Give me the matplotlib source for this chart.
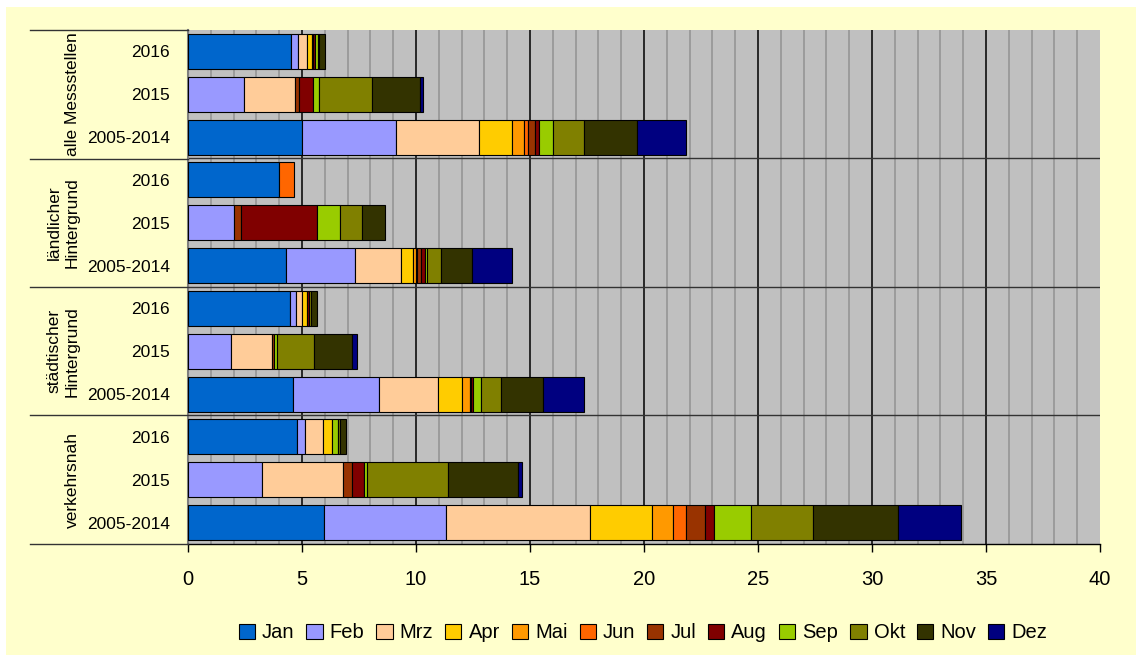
import numpy as np
import matplotlib
matplotlib.use('Agg')
import matplotlib.pyplot as plt
from matplotlib.patches import Patch, Rectangle
from matplotlib.lines import Line2D

plt.rcParams['font.family'] = ['Liberation Sans', 'DejaVu Sans']

# rows from top to bottom:
groups = ['alle Messstellen', 'ländlicher\nHintergrund',
          'städtischer\nHintergrund', 'verkehrsnah']
periods = ['2016', '2015', '2005-2014']
months = ['Jan', 'Feb', 'Mrz', 'Apr', 'Mai', 'Jun',
          'Jul', 'Aug', 'Sep', 'Okt', 'Nov', 'Dez']

# values per month, one entry per row (12 rows):
jan = [4.53, 0, 5.01, 4.01, 0, 4.30, 4.47, 0, 4.59, 4.77, 0, 5.96]
feb = [0.29, 2.44, 4.12, 0, 2.03, 3.04, 0.27, 1.90, 3.77, 0.38, 3.23, 5.37]
mrz = [0.41, 2.27, 3.65, 0, 0, 2.02, 0.26, 1.80, 2.62, 0.76, 3.58, 6.29]
apr = [0.22, 0, 1.41, 0, 0, 0.52, 0.22, 0, 1.02, 0.42, 0, 2.73]
mai = [0, 0, 0.54, 0, 0, 0.12, 0, 0, 0.37, 0, 0, 0.94]
jun = [0, 0, 0.19, 0.65, 0, 0.06, 0, 0, 0, 0, 0, 0.56]
jul = [0.03, 0.15, 0.28, 0, 0.31, 0.14, 0, 0.07, 0.06, 0, 0.40, 0.82]
aug = [0.09, 0.63, 0.19, 0, 3.33, 0.19, 0.07, 0, 0.06, 0, 0.49, 0.38]
sep = [0.12, 0.24, 0.64, 0, 1.01, 0.11, 0, 0.12, 0.38, 0.27, 0.14, 1.66]
okt = [0.05, 2.32, 1.32, 0, 0.95, 0.60, 0.10, 1.65, 0.86, 0.05, 3.56, 2.69]
nov = [0.28, 2.14, 2.35, 0, 1.02, 1.37, 0.25, 1.67, 1.84, 0.27, 3.06, 3.75]
dez = [0, 0.13, 2.16, 0, 0, 1.74, 0, 0.19, 1.80, 0, 0.20, 2.76]

colors = ['#0066CC', '#9999FF', '#FFCC99', '#FFCC00', '#FF9900', '#FF6600',
          '#993300', '#800000', '#99CC00', '#808000', '#333300', '#000080']

W, H = 1136, 655
fig = plt.figure(figsize=(W / 100, H / 100), dpi=100, facecolor='white')
# yellow chart area, white margin only at top and left:
fig.patches.append(Rectangle((6 / W, 0), 1, 1 - 7 / H,
                             transform=fig.transFigure, facecolor='#FFFFCC',
                             edgecolor='none', zorder=-10))

left, right, top, bottom = 188, 1100, 30, 544
ax = fig.add_axes([left / W, 1 - bottom / H, (right - left) / W, (bottom - top) / H])
ax.set_facecolor('#C0C0C0')

# stacked bars:
series = [jan, feb, mrz, apr, mai, jun, jul, aug, sep, okt, nov, dez]
y = np.arange(12)
base = np.zeros(12)
for vals, col in zip(series, colors):
    vals = np.array(vals)
    nz = vals > 0
    ax.barh(y[nz], vals[nz], left=base[nz], height=0.82, color=col,
            edgecolor='black', linewidth=0.8, zorder=3)
    base += vals

# grid lines:
for x in range(1, 40):
    if x % 5:
        ax.axvline(x, color='#999999', lw=1.3, zorder=1)
    else:
        ax.axvline(x, color='black', lw=1.1, zorder=1)
for b in [2.5, 5.5, 8.5]:
    ax.axhline(b, color='#333333', lw=1.0, zorder=2)

ax.set_xlim(0, 40)
ax.set_ylim(11.5, -0.5)
ax.set_xticks(range(0, 41, 5))
ax.tick_params(axis='x', length=6, width=1, direction='out', labelsize=14.5, pad=13)
ax.set_yticks(y)
ax.set_yticklabels(periods * 4)
ax.tick_params(axis='y', length=0, labelsize=12.5, pad=13)
for s in ['top', 'right']:
    ax.spines[s].set_visible(False)
ax.spines['left'].set_color('#808080')
ax.spines['left'].set_linewidth(1.5)
ax.spines['bottom'].set_linewidth(1.0)

# category group lines and labels left of the axis:
for b in [-0.5, 2.5, 5.5, 8.5, 11.5]:
    yy = ax.transData.transform((0, b))[1]
    yf = fig.transFigure.inverted().transform((0, yy))[1]
    fig.add_artist(Line2D([30 / W, left / W], [yf, yf], color='#333333', lw=1.0))
for i, g in enumerate(groups):
    yy = ax.transData.transform((0, 3 * i + 1))[1]
    yf = fig.transFigure.inverted().transform((0, yy))[1]
    fig.text(80 / W, yf, g, rotation=90, ha='right', va='center',
             fontsize=12.5, multialignment='center', linespacing=1.3)

# legend:
handles = [Patch(facecolor=c, edgecolor='black', linewidth=0.8) for c in colors]
fig.legend(handles, months, loc='center', bbox_to_anchor=(643 / W, 1 - 633 / H),
           ncol=12, frameon=False, fontsize=14.5, handlelength=0.8, handleheight=0.8,
           handletextpad=0.35, columnspacing=0.6)

fig.savefig('out.png', dpi=100, facecolor=fig.get_facecolor())
